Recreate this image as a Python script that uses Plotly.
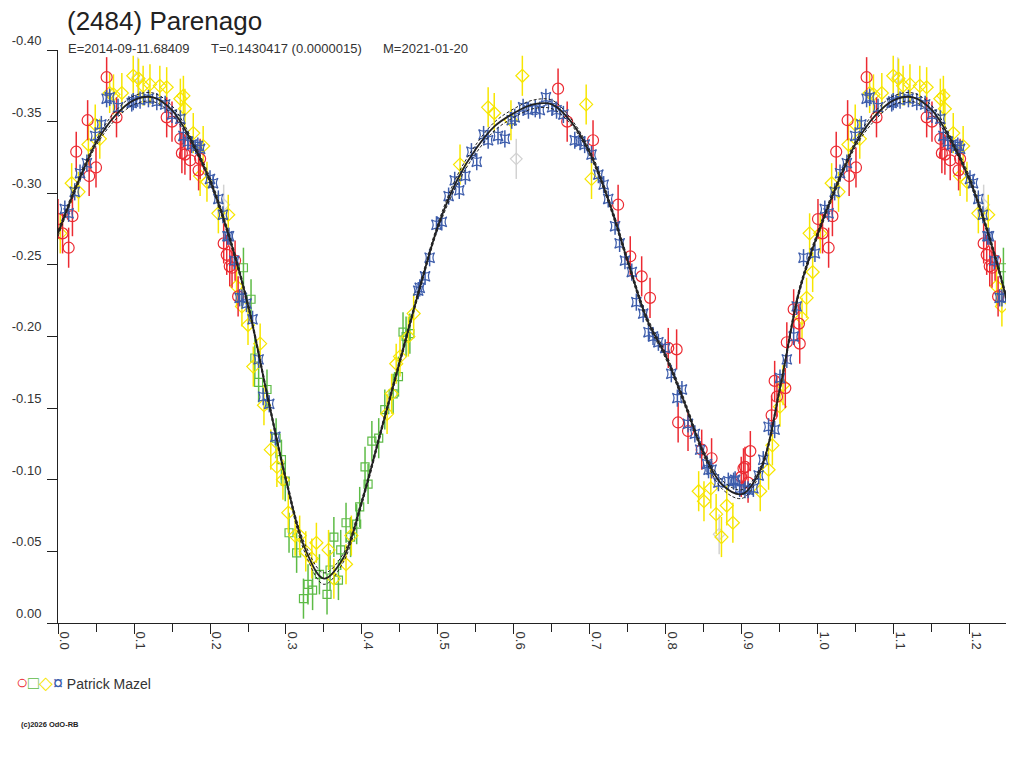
import plotly.graph_objs as go

# phase / magnitude (phase 0..1, folded again past 1.0)
red_phase = [0.000, 0.006, 0.014, 0.019, 0.024, 0.039, 0.041, 0.050, 0.064, 0.077,
             0.143, 0.150, 0.161, 0.163, 0.167, 0.174, 0.185, 0.187, 0.218, 0.222,
             0.226, 0.229, 0.233, 0.237, 0.658, 0.670, 0.704, 0.737, 0.753, 0.768,
             0.779, 0.803, 0.814, 0.816, 0.829, 0.847, 0.860, 0.899, 0.902, 0.904,
             0.908, 0.911, 0.939, 0.943, 0.946, 0.957, 0.959, 0.968, 0.975, 0.976]
red_mag = [-0.282, -0.272, -0.262, -0.284, -0.329, -0.351, -0.312, -0.318, -0.381, -0.353,
           -0.353, -0.350, -0.338, -0.328, -0.327, -0.323, -0.316, -0.324, -0.265, -0.257,
           -0.249, -0.248, -0.253, -0.228, -0.373, -0.350, -0.337, -0.292, -0.256, -0.242,
           -0.227, -0.192, -0.191, -0.140, -0.134, -0.121, -0.115, -0.102, -0.108, -0.109,
           -0.098, -0.120, -0.145, -0.169, -0.158, -0.164, -0.196, -0.219, -0.209, -0.195]

green_phase = [0.244, 0.254, 0.259, 0.264, 0.275, 0.287, 0.294, 0.299, 0.304, 0.314,
               0.323, 0.329, 0.335, 0.344, 0.354, 0.358, 0.363, 0.369, 0.372, 0.379,
               0.385, 0.393, 0.397, 0.404, 0.408, 0.413, 0.422, 0.430, 0.441, 0.448,
               0.454, 0.458, 0.463]
green_mag = [-0.248, -0.226, -0.185, -0.168, -0.163, -0.129, -0.114, -0.099, -0.063, -0.049,
             -0.017, -0.027, -0.023, -0.034, -0.020, -0.037, -0.060, -0.030, -0.051, -0.070,
             -0.060, -0.069, -0.081, -0.109, -0.097, -0.127, -0.129, -0.149, -0.160, -0.172,
             -0.203, -0.200, -0.202]

yellow_phase = [0.003, 0.018, 0.027, 0.040, 0.049, 0.055, 0.068, 0.073, 0.084, 0.099,
                0.106, 0.112, 0.121, 0.134, 0.143, 0.161, 0.165, 0.167, 0.178, 0.187,
                0.191, 0.196, 0.211, 0.224, 0.235, 0.242, 0.250, 0.257, 0.266, 0.271,
                0.280, 0.288, 0.296, 0.303, 0.312, 0.318, 0.326, 0.334, 0.340, 0.356,
                0.363, 0.379, 0.386, 0.433, 0.439, 0.445, 0.450, 0.461, 0.468, 0.529,
                0.566, 0.574, 0.596, 0.611, 0.695, 0.702, 0.843, 0.850, 0.859, 0.866,
                0.873, 0.880, 0.888, 0.924, 0.935, 0.940, 0.950, 0.954, 0.979, 0.985,
                0.989, 0.993]
yellow_mag = [-0.272, -0.307, -0.301, -0.334, -0.348, -0.338, -0.370, -0.369, -0.370, -0.382,
              -0.380, -0.375, -0.376, -0.375, -0.374, -0.366, -0.368, -0.359, -0.342, -0.312,
              -0.333, -0.308, -0.286, -0.285, -0.235, -0.221, -0.208, -0.179, -0.195, -0.152,
              -0.121, -0.109, -0.100, -0.077, -0.061, -0.061, -0.050, -0.045, -0.056, -0.051,
              -0.031, -0.041, -0.061, -0.146, -0.160, -0.181, -0.186, -0.200, -0.216, -0.320,
              -0.360, -0.356, -0.351, -0.382, -0.362, -0.310, -0.092, -0.085, -0.094, -0.076,
              -0.060, -0.082, -0.070, -0.092, -0.107, -0.124, -0.151, -0.166, -0.213, -0.227,
              -0.272, -0.245]

blue_phase = [0.009, 0.014, 0.022, 0.029, 0.038, 0.049, 0.057, 0.064, 0.068, 0.079,
              0.097, 0.099, 0.108, 0.119, 0.130, 0.141, 0.150, 0.161, 0.165, 0.171,
              0.176, 0.184, 0.187, 0.200, 0.204, 0.211, 0.217, 0.223, 0.225, 0.232,
              0.239, 0.242, 0.248, 0.256, 0.264, 0.270, 0.278, 0.286, 0.474, 0.476,
              0.483, 0.489, 0.498, 0.505, 0.514, 0.522, 0.528, 0.536, 0.544, 0.551,
              0.560, 0.566, 0.579, 0.588, 0.597, 0.601, 0.612, 0.619, 0.628, 0.634,
              0.642, 0.650, 0.656, 0.665, 0.680, 0.687, 0.693, 0.702, 0.711, 0.718,
              0.724, 0.733, 0.739, 0.746, 0.755, 0.761, 0.770, 0.777, 0.783, 0.790,
              0.799, 0.807, 0.815, 0.821, 0.829, 0.838, 0.845, 0.854, 0.856, 0.860,
              0.869, 0.882, 0.889, 0.891, 0.897, 0.904, 0.908, 0.915, 0.922, 0.928,
              0.935, 0.943, 0.950, 0.959, 0.968, 0.972, 0.981, 0.996]
blue_mag = [-0.289, -0.286, -0.301, -0.314, -0.321, -0.340, -0.348, -0.366, -0.367, -0.360,
            -0.363, -0.364, -0.365, -0.366, -0.364, -0.362, -0.355, -0.352, -0.340, -0.336,
            -0.334, -0.333, -0.331, -0.310, -0.307, -0.296, -0.285, -0.270, -0.270, -0.253,
            -0.227, -0.227, -0.223, -0.212, -0.184, -0.158, -0.153, -0.130, -0.232, -0.234,
            -0.242, -0.255, -0.278, -0.280, -0.298, -0.309, -0.302, -0.312, -0.329, -0.322,
            -0.341, -0.337, -0.340, -0.338, -0.351, -0.353, -0.360, -0.358, -0.359, -0.358,
            -0.367, -0.360, -0.358, -0.355, -0.337, -0.336, -0.334, -0.327, -0.313, -0.306,
            -0.296, -0.277, -0.265, -0.253, -0.245, -0.224, -0.216, -0.203, -0.200, -0.196,
            -0.192, -0.174, -0.157, -0.163, -0.139, -0.132, -0.121, -0.111, -0.107, -0.107,
            -0.098, -0.099, -0.099, -0.100, -0.094, -0.093, -0.093, -0.094, -0.103, -0.114,
            -0.137, -0.135, -0.171, -0.184, -0.200, -0.221, -0.255, -0.258]

grey_phase = [0.105, 0.218, 0.603, 0.870]
grey_mag = [-0.381, -0.292, -0.324, -0.062]

# typical error of each observer session
red_err = 0.014
green_err = 0.014
yellow_err = 0.014
blue_err = 0.006
grey_err = 0.014

# fourier fit, with its uncertainty band
fit_phase = [0.000, 0.025, 0.050, 0.075, 0.100, 0.125, 0.150, 0.175, 0.200, 0.225,
             0.250, 0.275, 0.300, 0.325, 0.350, 0.375, 0.400, 0.425, 0.450, 0.475,
             0.500, 0.525, 0.550, 0.575, 0.600, 0.625, 0.650, 0.675, 0.700, 0.725,
             0.750, 0.775, 0.800, 0.825, 0.850, 0.875, 0.900, 0.925, 0.950, 0.975]
fit_mag = [-0.272, -0.306, -0.335, -0.354, -0.365, -0.367, -0.358, -0.337, -0.309, -0.270,
           -0.222, -0.160, -0.100, -0.052, -0.031, -0.045, -0.085, -0.134, -0.183, -0.232,
           -0.277, -0.309, -0.331, -0.347, -0.356, -0.362, -0.362, -0.350, -0.328, -0.294,
           -0.252, -0.212, -0.186, -0.153, -0.118, -0.096, -0.090, -0.108, -0.164, -0.231]
fit_err = [0.002, 0.002, 0.002, 0.003, 0.003, 0.003, 0.003, 0.002, 0.002, 0.002,
           0.002, 0.002, 0.002, 0.003, 0.004, 0.003, 0.002, 0.002, 0.002, 0.002,
           0.002, 0.003, 0.003, 0.003, 0.003, 0.003, 0.003, 0.002, 0.002, 0.002,
           0.002, 0.002, 0.002, 0.002, 0.002, 0.003, 0.003, 0.002, 0.002, 0.002]

x_ticks = [0.0, 0.1, 0.2, 0.3, 0.4, 0.5, 0.6, 0.7, 0.8, 0.9, 1.0, 1.1, 1.2]
y_ticks = [-0.40, -0.35, -0.30, -0.25, -0.20, -0.15, -0.10, -0.05, 0.00]
y_ticktext = ["-0.40", "-0.35", "-0.30", "-0.25", "-0.20", "-0.15", "-0.10", "-0.05", "0.00"]

PHASE_MAX = 1.2474


def fold(phase, mag):
    """repeat the start of the cycle after phase 1.0"""
    xs = list(phase) + [p + 1 for p in phase if p + 1 <= PHASE_MAX]
    ys = list(mag) + [m for p, m in zip(phase, mag) if p + 1 <= PHASE_MAX]
    return xs, ys


def _points(phase, mag, err, color, symbol, size):
    x, y = fold(phase, mag)
    return go.Scatter(
        x=x, y=y, mode="markers", showlegend=False, hoverinfo="skip",
        marker=dict(symbol=symbol, size=size, color=color,
                    line=dict(color=color, width=1.2)),
        error_y=dict(type="constant", value=err, color=color, thickness=1.5, width=0),
    )


fig = go.Figure()
fig.add_trace(_points(grey_phase, grey_mag, grey_err, "#d2d2d2", "diamond-open", 9))
fig.add_trace(_points(green_phase, green_mag, green_err, "#5dbb46", "square-open", 8))
fig.add_trace(_points(yellow_phase, yellow_mag, yellow_err, "#f7e600", "diamond-open", 10))
fig.add_trace(_points(red_phase, red_mag, red_err, "#ec2a32", "circle-open", 11))
fig.add_trace(_points(blue_phase, blue_mag, blue_err, "#3c5cab", "star-square-open", 9))

# fit curve (extended over the whole plotted phase range)
cyc_phase = fit_phase + [p + 1 for p in fit_phase] + [2.0]
cyc_mag = fit_mag + fit_mag + [fit_mag[0]]
cyc_err = fit_err + fit_err + [fit_err[0]]
for sign in (-1, 1):
    fig.add_trace(go.Scatter(
        x=cyc_phase, y=[m + sign * e for m, e in zip(cyc_mag, cyc_err)],
        mode="lines", line=dict(color="#222222", width=1, dash="3px,2px", shape="spline"),
        showlegend=False, hoverinfo="skip",
    ))
fig.add_trace(go.Scatter(
    x=cyc_phase, y=cyc_mag, mode="lines",
    line=dict(color="#222222", width=1.8, shape="spline"),
    showlegend=False, hoverinfo="skip",
))

font = "Liberation Sans, Arial, sans-serif"
fig.update_layout(
    width=1024, height=768,
    margin=dict(l=58, r=18, t=50, b=145),
    plot_bgcolor="white", paper_bgcolor="white",
    font=dict(family=font, size=13, color="#333333"),
    showlegend=False,
)
fig.update_xaxes(
    range=[0, PHASE_MAX], tickvals=x_ticks, tickformat=".1f", tickangle=90,
    ticks="outside", ticklen=10, tickcolor="#222222", tickwidth=1,
    ticklabelposition="outside right", ticklabelstandoff=5, ticklabelshift=5,
    minor=dict(dtick=0.05, tick0=0, ticks="outside", ticklen=8, tickcolor="#222222"),
    showline=True, linecolor="#222222", linewidth=1,
    showgrid=False, zeroline=False, automargin=False,
    tickfont=dict(size=13, color="#333333"),
)
fig.update_yaxes(
    range=[0.0, -0.40], tickvals=y_ticks, ticktext=y_ticktext,
    ticks="outside", ticklen=10, tickcolor="#222222", tickwidth=1,
    ticklabelposition="outside top", ticklabelstandoff=13,
    showline=True, linecolor="#222222", linewidth=1,
    showgrid=False, zeroline=False, automargin=False,
    tickfont=dict(size=13, color="#333333"),
)


# title block, legend and credit (paper coords relative to plot area)
def px(x):
    return (x - 58) / 948.0


def py(y):
    return (623 - y) / 573.0


texts = [
    ("(2484) Parenago", 66, 21, 26, "#222222"),
    ("E=2014-09-11.68409", 67, 48, 13, "#333333"),
    ("T=0.1430417 (0.0000015)", 210, 48, 13, "#333333"),
    ("M=2021-01-20", 382, 48, 13, "#333333"),
]
for text, x, y, size, color in texts:
    fig.add_annotation(text=text, x=px(x), y=py(y), xref="paper", yref="paper",
                       xanchor="left", yanchor="middle", showarrow=False, borderpad=0,
                       font=dict(family=font, size=size, color=color))

legend_text = ("<span style='color:#ec2a32;font-size:20px'>○</span>"
               "<span style='color:#5dbb46;font-size:18px'>□</span>"
               "<span style='color:#f7e600;font-size:18px'>◇</span>"
               "<span style='color:#3c5cab;font-size:18px'>¤</span>"
               " Patrick Mazel")
fig.add_annotation(text=legend_text, x=px(14), y=py(682), xref="paper", yref="paper",
                   xanchor="left", yanchor="middle", showarrow=False,
                   font=dict(family=font, size=14, color="#333333"))
fig.add_annotation(text="<b>(c)2026 OdO-RB</b>", x=px(19), y=py(724), xref="paper", yref="paper",
                   xanchor="left", yanchor="middle", showarrow=False,
                   font=dict(family=font, size=7.5, color="#222222"))

# drop the default page margin so the figure sits at the window corner
fig.write_html("out.html", config={"displayModeBar": False},
               post_script="document.body.style.margin='0';")
